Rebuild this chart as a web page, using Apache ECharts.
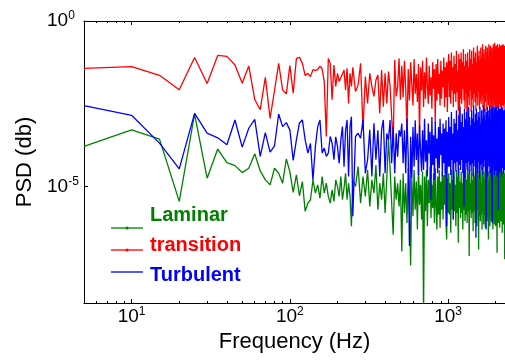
<!DOCTYPE html>
<html><head><meta charset="utf-8">
<script src="https://cdn.jsdelivr.net/npm/echarts@6/dist/echarts.min.js"></script>
<style>html,body{margin:0;padding:0;background:#fff}#c{width:505px;height:360px}</style>
</head><body><div id="c"></div>
<script>
// Frequency bins (Hz)
const freqHz = [
5,10,15,20,25,30,35,40,45,50,55,60,65,70,75,80,85,90,95,100,
105,110,115,120,125,130,135,140,145,150,155,160,165,170,175,180,185,190,195,200,
205,210,215,220,225,230,235,240,245,250,
260,270,280,290,300,310,320,330,340,350,360,370,380,390,400,410,420,430,440,450,460,470,480,490,500,
510,520,530,540,550,560,570,580,590,600,610,620,630,640,650,660,670,680,690,700,
710,720,730,740,750,760,770,780,790,800,810,820,830,840,850,860,870,880,890,900,
910,920,930,940,950,960,970,980,990,1000,
1010,1020,1030,1040,1050,1060,1070,1080,1090,1100,1110,1120,1130,1140,1150,1160,1170,1180,1190,1200,
1210,1220,1230,1240,1250,1260,1270,1280,1290,1300,1310,1320,1330,1340,1350,1360,1370,1380,1390,1400,
1410,1420,1430,1440,1450,1460,1470,1480,1490,1500,1510,1520,1530,1540,1550,1560,1570,1580,1590,1600,
1610,1620,1630,1640,1650,1660,1670,1680,1690,1700,1710,1720,1730,1740,1750,1760,1770,1780,1790,1800,
1810,1820,1830,1840,1850,1860,1870,1880,1890,1900,1910,1920,1930,1940,1950,1960,1970,1980,1990,2000,
2010,2020,2030,2040,2050,2060,2070,2080,2090,2100,2110,2120,2130,2140,2150,2160,2170,2180,2190,2200,
2210,2220,2230,2240,2250,2260,2270,2280,2290
];
// log10(PSD) values
const laminarLog = [
-3.79,-3.29,-3.57,-5.45,-2.81,-4.75,-3.87,-4.28,-4.37,-4.58,
-4.45,-4.01,-4.53,-4.80,-4.95,-4.45,-4.60,-4.90,-4.17,-4.55,
-5.18,-4.65,-5.28,-4.85,-5.75,-5.50,-5.40,-4.80,-5.20,-4.95,
-5.35,-4.70,-5.20,-4.90,-5.30,-5.50,-5.10,-5.45,-4.80,-5.00,
-5.30,-4.70,-5.40,-5.05,-4.60,-5.40,-4.90,-5.30,-6.20,-4.80,
-5.00,-4.40,-5.50,-4.70,-5.30,-4.50,-5.60,-4.80,-5.20,-4.35,
-5.70,-4.90,-5.40,-4.60,-5.80,-4.75,-3.60,-4.45,-5.50,-6.46,
-4.70,-5.40,-4.90,-5.60,-4.80,
-6.96,-4.60,-5.80,-4.90,-6.10,-4.45,-5.60,-7.39,-4.75,-5.90,
-4.50,-5.70,-4.85,-6.30,-4.40,-5.55,-4.95,-6.00,-4.55,-8.90,
-4.70,-5.75,-4.50,-6.20,-4.80,-5.50,-4.40,-5.95,-4.95,-5.65,
-4.60,-6.10,-4.45,-5.60,-6.30,-4.70,-5.85,-4.50,-6.25,-4.85,
-5.70,-4.55,-6.00,-4.65,-5.55,-4.40,-6.15,-6.60,-4.75,-5.80,
-4.60,-5.85,-4.90,-6.40,-4.50,-5.70,-4.80,-6.00,-4.55,-5.75,
-4.95,-6.20,-4.50,-5.80,-4.70,-6.70,-4.45,-5.65,-4.85,-5.95,
-4.55,-5.80,-4.90,-6.30,-4.45,-5.70,-4.75,-6.05,-4.50,-5.85,
-4.80,-6.10,-4.40,-5.75,-4.65,-7.10,-4.50,-5.70,-4.90,-5.95,
-4.55,-5.80,-4.80,-6.35,-4.45,-5.75,-4.70,-6.10,-4.60,-5.80,
-4.85,-6.20,-4.45,-5.70,-4.65,-6.90,-4.55,-5.90,-4.75,-6.05,
-4.50,-5.85,-4.90,-6.30,-4.40,-5.75,-4.70,-6.15,-4.55,-5.85,
-4.80,-6.25,-4.45,-5.70,-4.60,-6.05,-4.50,-5.90,-4.85,-6.60,
-4.55,-5.80,-4.75,-6.20,-4.45,-5.70,-4.65,-6.05,-4.60,-5.90,
-4.80,-6.30,-4.50,-5.75,-4.70,-6.15,-4.45,-5.85,-4.85,-6.20,
-4.55,-5.80,-4.75,-7.00,-4.50,-5.90,-4.65,-6.10,-4.55,-5.75,
-4.80,-6.25,-4.45,-5.85,-4.70,-6.05,-4.50,-5.70,-4.90,-6.40,
-4.55,-5.85,-4.75,-6.15,-4.45,-5.80,-4.65,-7.20,-4.60
];
const transitionLog = [
-1.43,-1.38,-1.64,-2.08,-1.10,-1.89,-1.04,-1.07,-1.33,-1.88,
-1.36,-2.37,-2.68,-1.70,-2.94,-2.10,-1.28,-2.08,-2.20,-1.35,
-2.18,-1.13,-1.10,-1.28,-1.65,-1.58,-1.68,-1.47,-1.49,-1.47,
-1.36,-1.45,-1.83,-3.49,-1.13,-1.28,-2.38,-1.33,-1.98,-1.58,
-1.83,-1.78,-1.60,-1.48,-2.08,-1.43,-2.49,-1.58,-1.98,-1.40,
-2.13,-1.93,-1.28,-3.29,-1.68,-2.49,-1.58,-1.98,-2.28,-1.78,
-1.63,-2.79,-1.48,-2.59,-1.58,-2.49,-1.53,-1.98,-2.89,-3.69,
-1.18,-2.28,-1.98,-1.13,-2.38,
-1.35,-2.30,-1.20,-2.05,-3.30,-1.45,-2.40,-1.25,-1.90,-2.55,
-1.15,-2.20,-1.60,-2.45,-1.30,-3.50,-1.40,-2.10,-1.20,-2.60,
-1.55,-2.35,-1.10,-1.95,-2.50,-1.35,-2.25,-1.70,-2.65,-1.25,
-2.05,-1.45,-3.10,-1.30,-2.40,-1.15,-2.20,-1.60,-2.55,-1.20,
-2.35,-1.50,-2.00,-1.10,-2.60,-1.40,-2.30,-1.25,-2.75,-1.35,
-1.00,-2.30,-1.20,-2.50,-0.95,-2.10,-1.40,-2.60,-1.05,-2.20,
-1.30,-2.45,-0.90,-2.15,-1.50,-2.70,-1.00,-3.60,-1.15,-2.35,
-0.95,-2.50,-1.25,-2.05,-0.85,-2.40,-1.35,-2.65,-1.00,-2.20,
-1.20,-4.40,-0.95,-2.30,-1.40,-2.55,-0.85,-2.10,-1.15,-2.75,
-0.90,-2.35,-1.30,-2.60,-0.80,-2.20,-1.10,-2.45,-0.95,-2.70,
-1.25,-2.30,-0.75,-2.55,-1.05,-2.15,-0.90,-2.65,-1.20,-2.40,
-0.80,-2.50,-1.10,-2.25,-0.70,-2.60,-1.00,-2.35,-0.85,-2.75,
-1.15,-2.45,-0.75,-2.20,-0.95,-2.70,-0.80,-2.40,-1.10,-2.55,
-0.70,-2.30,-0.90,-2.65,-0.75,-2.45,-1.05,-2.80,-0.80,-2.35,
-0.95,-2.60,-0.70,-2.40,-0.85,-2.55,-0.66,-2.30,-1.00,-2.70,
-0.75,-2.45,-0.90,-2.65,-0.70,-2.35,-0.80,-2.75,-0.95,-2.50,
-0.70,-2.40,-0.85,-2.60,-0.75,-2.30,-0.90,-2.70,-0.72,-2.45,
-0.80,-2.55,-0.70,-2.35,-0.88,-2.65,-0.75,-2.50,-0.85
];
const turbulentLog = [
-2.56,-2.85,-3.69,-4.47,-2.79,-3.39,-3.53,-3.74,-2.99,-3.81,
-3.24,-2.97,-4.09,-3.37,-3.96,-3.77,-2.81,-3.19,-3.07,-3.29,
-4.21,-3.59,-3.08,-2.99,-3.59,-3.99,-3.70,-4.80,-3.79,-3.20,
-2.99,-3.99,-3.84,-4.09,-3.99,-3.49,-3.69,-4.19,-3.50,-3.79,
-4.30,-3.60,-3.19,-4.40,-3.30,-2.99,-4.70,-3.20,-2.89,-5.90,
-3.49,-3.39,-3.54,-2.99,-4.60,-4.19,-3.29,-4.70,-3.09,-4.19,
-3.30,-4.70,-3.29,-2.99,-4.60,-3.40,-3.59,-2.99,-4.30,-3.20,
-4.60,-3.39,-4.10,-3.30,-3.49,
-3.10,-4.30,-3.30,-4.60,-2.95,-4.10,-6.80,-3.50,-4.75,-3.20,
-4.40,-3.00,-4.20,-3.40,-4.65,-3.15,-3.90,-4.55,-3.30,-4.50,
-2.95,-4.25,-3.60,-4.70,-3.10,-4.00,-3.35,-5.40,-2.90,-4.35,
-3.45,-4.80,-3.05,-4.15,-3.55,-4.60,-3.20,-4.45,-2.95,-4.05,
-3.40,-4.70,-3.10,-4.30,-3.25,-4.60,-3.00,-6.20,-3.35,-4.40,
-2.90,-4.40,-3.20,-4.65,-2.75,-4.20,-3.40,-6.00,-2.95,-4.30,
-3.10,-4.55,-2.70,-4.25,-3.30,-4.70,-2.85,-4.35,-2.60,-4.50,
-3.05,-4.20,-2.80,-4.60,-3.20,-5.60,-2.65,-4.75,-2.95,-4.30,
-2.75,-4.50,-3.10,-4.25,-2.60,-4.65,-2.90,-4.35,-3.15,-4.55,
-2.70,-4.30,-2.95,-4.70,-2.55,-4.40,-3.05,-4.20,-2.80,-6.55,
-2.65,-4.45,-3.00,-4.60,-2.75,-4.25,-2.90,-4.75,-2.60,-4.35,
-3.10,-4.50,-2.70,-4.30,-2.95,-4.65,-2.55,-4.40,-2.85,-4.20,
-2.65,-4.55,-3.00,-6.30,-2.75,-4.45,-2.60,-4.70,-2.90,-4.30,
-2.70,-4.40,-2.55,-4.60,-2.95,-4.25,-2.65,-4.75,-2.80,-6.10,
-2.60,-4.50,-2.90,-4.30,-2.55,-4.65,-2.75,-4.40,-2.62,-4.55,
-2.85,-4.35,-2.60,-4.70,-2.70,-4.45,-2.95,-5.70,-2.58,-4.60,
-2.75,-4.40,-2.65,-4.55,-2.90,-4.30,-2.60,-4.70,-2.80,-4.45,
-2.62,-4.35,-2.85,-4.60,-2.70,-4.40,-2.95,-4.50,-2.65
];
const seriesNames = ['Laminar', 'transition', 'Turbulent'];
const seriesColors = ['#008000', '#ff0000', '#0000ff'];
const xMajorTicksHz = [10, 100, 1000];
const xMinorTicksHz = [6,7,8,9,20,30,40,50,60,70,80,90,200,300,400,500,600,700,800,900,2000];
const yMajorExp = [-5, 0];
const xRangeHz = [5, 2290];
const yRangeExp = [-8.52, 0];

const FONT = '"Liberation Sans", Arial, Helvetica, sans-serif';
const lg = v => Math.log10(v);
const xMin = lg(xRangeHz[0]), xMax = lg(xRangeHz[1]);
const majX = xMajorTicksHz.map(lg), minX = xMinorTicksHz.map(lg);
const pow10 = v => '{b|10}{s|' + Math.round(v) + '}';
const rich = {
  b: {fontSize: 19, fontFamily: FONT, color: '#000', lineHeight: 22},
  s: {fontSize: 12, fontFamily: FONT, color: '#000', lineHeight: 12, verticalAlign: 'top'}
};
function xAx(pos, ticks, len, line, labels) {
  return {
    type: 'value', position: pos, min: xMin, max: xMax, gridIndex: 0,
    axisLine: {show: line, onZero: false, lineStyle: {color: '#000', width: 1}},
    axisTick: {show: true, inside: true, length: len, customValues: ticks, lineStyle: {color: '#000', width: 1}},
    axisLabel: labels ? {show: true, customValues: majX, formatter: pow10, rich: rich, margin: 3} : {show: false},
    splitLine: {show: false}, minorTick: {show: false}
  };
}
const xAxes = [xAx('bottom', majX, 4, true, true), xAx('bottom', minX, 2, false, false),
               xAx('top', majX, 4, true, false), xAx('top', minX, 2, false, false)];
xAxes[0].name = 'Frequency (Hz)';
xAxes[0].nameLocation = 'middle';
xAxes[0].nameGap = 28;
xAxes[0].nameTextStyle = {fontSize: 22, fontFamily: FONT, color: '#000'};

const logs = [laminarLog, transitionLog, turbulentLog];
const series = logs.map((arr, k) => ({
  name: seriesNames[k], type: 'line', xAxisIndex: 0, yAxisIndex: 0,
  data: freqHz.map((f, i) => [lg(f), arr[i]]),
  showSymbol: false, symbol: 'none', clip: true, animation: false,
  lineStyle: {color: seriesColors[k], width: 1.3}, itemStyle: {color: seriesColors[k]},
  z: 2 + k
}));

const legendRows = [
  {lineY: 228, textY: 215, dot: true},
  {lineY: 250, textY: 245, dot: true},
  {lineY: 272, textY: 275, dot: false}
];
const graphic = [];
legendRows.forEach((r, k) => {
  graphic.push({type: 'line', shape: {x1: 111, y1: r.lineY, x2: 143, y2: r.lineY}, style: {stroke: seriesColors[k], lineWidth: 1.3}, z: 100});
  if (r.dot) graphic.push({type: 'circle', shape: {cx: 127, cy: r.lineY, r: 1.5}, style: {fill: seriesColors[k]}, z: 100});
  graphic.push({type: 'text', x: 150, y: r.textY, style: {text: seriesNames[k], fill: seriesColors[k], font: 'bold 20px ' + FONT, verticalAlign: 'middle', align: 'left'}, z: 100});
});

const chart = echarts.init(document.getElementById('c'), null, {renderer: 'canvas'});
chart.setOption({
  backgroundColor: '#fff',
  animation: false,
  grid: {left: 84, top: 21, right: 0, bottom: 57, containLabel: false},
  xAxis: xAxes,
  yAxis: {
    type: 'value', min: yRangeExp[0], max: yRangeExp[1],
    axisLine: {show: true, onZero: false, lineStyle: {color: '#000', width: 1}},
    axisTick: {show: true, inside: true, length: 4, customValues: yMajorExp, lineStyle: {color: '#000'}},
    axisLabel: {show: true, customValues: yMajorExp, formatter: pow10, rich: rich, align: 'left', margin: 37},
    splitLine: {show: false},
    name: 'PSD (db)', nameLocation: 'middle', nameGap: 40,
    nameTextStyle: {fontSize: 22, fontFamily: FONT, color: '#000'}
  },
  series: series,
  graphic: graphic
});
</script>
</body></html>
